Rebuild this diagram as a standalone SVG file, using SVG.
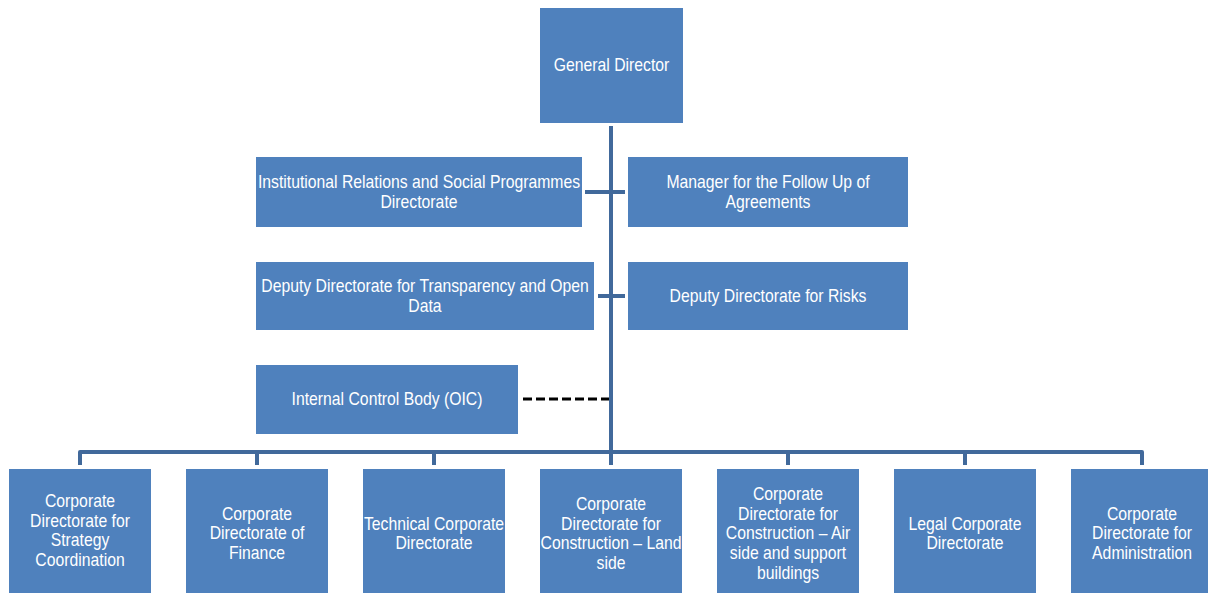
<svg xmlns="http://www.w3.org/2000/svg" width="1208" height="594" viewBox="0 0 1208 594">
<style>
.box{fill:#4F81BD;}
.t{font-family:"Liberation Sans",Arial,sans-serif;font-size:19px;fill:#FFFFFF;text-anchor:middle;}
.ln{fill:none;stroke:#41699B;stroke-width:4;stroke-linejoin:round;}
.dash{fill:none;stroke:#000000;stroke-width:3;stroke-dasharray:9 4;}
</style>
<rect width="1208" height="594" fill="#FFFFFF"/>
<g id="connectors">
<path class="ln" d="M611,126 V465"/>
<path class="ln" d="M585,192 H625"/>
<path class="ln" d="M598,296 H625"/>
<path class="ln" d="M80,465 V452 H1142 V465"/>
<path class="ln" d="M257,452 V465 M434,452 V465 M788,452 V465 M965,452 V465"/>
<path class="dash" d="M523,399 H609"/>
</g>
<g id="general-director">
<rect class="box" x="540" y="8" width="143" height="115"/>
<text class="t" transform="translate(611.5,71) scale(0.83,1)">General Director</text>
</g>
<g id="institutional-relations">
<rect class="box" x="256" y="157" width="326" height="70"/>
<text class="t" transform="translate(419,188) scale(0.83,1)">Institutional Relations and Social Programmes</text>
<text class="t" transform="translate(419,208) scale(0.83,1)">Directorate</text>
</g>
<g id="follow-up-agreements">
<rect class="box" x="628" y="157" width="280" height="70"/>
<text class="t" transform="translate(768,188) scale(0.83,1)">Manager for the Follow Up of</text>
<text class="t" transform="translate(768,208) scale(0.83,1)">Agreements</text>
</g>
<g id="transparency">
<rect class="box" x="256" y="262" width="338" height="68"/>
<text class="t" transform="translate(425,292) scale(0.83,1)">Deputy Directorate for Transparency and Open</text>
<text class="t" transform="translate(425,312) scale(0.83,1)">Data</text>
</g>
<g id="risks">
<rect class="box" x="628" y="262" width="280" height="68"/>
<text class="t" transform="translate(768,302) scale(0.83,1)">Deputy Directorate for Risks</text>
</g>
<g id="oic">
<rect class="box" x="256" y="365" width="262" height="69"/>
<text class="t" transform="translate(387,405) scale(0.83,1)">Internal Control Body (OIC)</text>
</g>
<g id="strategy">
<rect class="box" x="9" y="469" width="142" height="124"/>
<text class="t" transform="translate(80,507) scale(0.83,1)">Corporate</text>
<text class="t" transform="translate(80,526.7) scale(0.83,1)">Directorate for</text>
<text class="t" transform="translate(80,546.4) scale(0.83,1)">Strategy</text>
<text class="t" transform="translate(80,566.1) scale(0.83,1)">Coordination</text>
</g>
<g id="finance">
<rect class="box" x="186" y="469" width="142" height="124"/>
<text class="t" transform="translate(257,519.6) scale(0.83,1)">Corporate</text>
<text class="t" transform="translate(257,539.3) scale(0.83,1)">Directorate of</text>
<text class="t" transform="translate(257,559) scale(0.83,1)">Finance</text>
</g>
<g id="technical">
<rect class="box" x="363" y="469" width="142" height="124"/>
<text class="t" transform="translate(434,529.6) scale(0.83,1)">Technical Corporate</text>
<text class="t" transform="translate(434,549.3) scale(0.83,1)">Directorate</text>
</g>
<g id="construction-land">
<rect class="box" x="540" y="469" width="142" height="124"/>
<text class="t" transform="translate(611,510) scale(0.83,1)">Corporate</text>
<text class="t" transform="translate(611,529.7) scale(0.83,1)">Directorate for</text>
<text class="t" transform="translate(611,549.4) scale(0.83,1)">Construction – Land</text>
<text class="t" transform="translate(611,569.1) scale(0.83,1)">side</text>
</g>
<g id="construction-air">
<rect class="box" x="717" y="469" width="142" height="124"/>
<text class="t" transform="translate(788,500) scale(0.83,1)">Corporate</text>
<text class="t" transform="translate(788,519.7) scale(0.83,1)">Directorate for</text>
<text class="t" transform="translate(788,539.4) scale(0.83,1)">Construction – Air</text>
<text class="t" transform="translate(788,559.1) scale(0.83,1)">side and support</text>
<text class="t" transform="translate(788,578.8) scale(0.83,1)">buildings</text>
</g>
<g id="legal">
<rect class="box" x="894" y="469" width="142" height="124"/>
<text class="t" transform="translate(965,529.6) scale(0.83,1)">Legal Corporate</text>
<text class="t" transform="translate(965,549.3) scale(0.83,1)">Directorate</text>
</g>
<g id="administration">
<rect class="box" x="1071" y="469" width="142" height="124"/>
<text class="t" transform="translate(1142,519.6) scale(0.83,1)">Corporate</text>
<text class="t" transform="translate(1142,539.3) scale(0.83,1)">Directorate for</text>
<text class="t" transform="translate(1142,559) scale(0.83,1)">Administration</text>
</g>
</svg>
